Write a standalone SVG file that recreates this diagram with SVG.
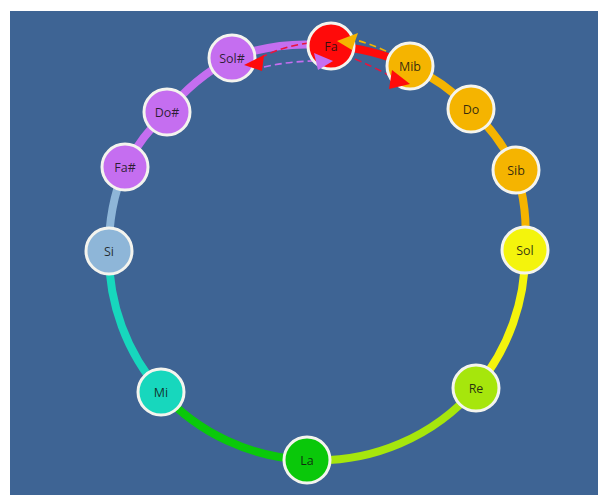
<svg xmlns="http://www.w3.org/2000/svg" width="598" height="495" viewBox="0 0 598 495">
<defs>
<style>
.bg{fill:#3e6494}
.arc{fill:none;stroke-width:8;stroke-linecap:butt}
.node circle{stroke:#f4f4ee;stroke-width:3}
.node text{font-family:"Open Sans","Noto Sans",sans-serif;font-size:12.5px;text-anchor:middle;dominant-baseline:central;fill:#111111;fill-opacity:0.85}
.dash{fill:none;stroke-width:1.6;stroke-dasharray:7 4}
</style>
</defs>
<rect width="598" height="495" fill="#ffffff"/>
<rect class="bg" x="10" y="11" width="588" height="484"/>
<g id="connectors">
<path class="arc" stroke="#ff0a0a" stroke-width="10" d="M331,46 A208,208 0 0 1 410,66"/>
<path class="arc" stroke="#f5b400" d="M410,66 A208,208 0 0 1 471,109"/>
<path class="arc" stroke="#f5b400" d="M471,109 A208,208 0 0 1 516,170"/>
<path class="arc" stroke="#f5b400" d="M516,170 A208,208 0 0 1 525,250"/>
<path class="arc" stroke="#f4f40c" d="M525,250 A208,208 0 0 1 476,388"/>
<path class="arc" stroke="#a6e60c" d="M476,388 A208,208 0 0 1 307,460"/>
<path class="arc" stroke="#0ac80a" d="M307,460 A208,208 0 0 1 161,392"/>
<path class="arc" stroke="#17d7bd" d="M161,392 A208,208 0 0 1 109,251"/>
<path class="arc" stroke="#8eb6d8" d="M109,251 A208,208 0 0 1 125,167"/>
<path class="arc" stroke="#c56ef0" d="M125,167 A208,208 0 0 1 167,112"/>
<path class="arc" stroke="#c56ef0" d="M167,112 A208,208 0 0 1 232,58"/>
<path class="arc" stroke="#c56ef0" d="M232,58 A208,208 0 0 1 331,46"/>
<path class="dash" stroke="#e8143c" d="M309,43 Q284,46 262,57"/>
<path class="dash" stroke="#c56ef0" d="M264,67 Q290,61 316,61"/>
<path class="dash" stroke="#e8143c" d="M355,59 Q374,67 392,77"/>
<path class="dash" stroke="#f5b400" d="M396,56 Q377,46 356,40"/>
</g>
<g id="node-Fa" class="node"><circle cx="331" cy="46" r="23" fill="#ff0a0a"/><text x="331" y="46">Fa</text></g>
<g id="node-Mib" class="node"><circle cx="410" cy="66" r="23" fill="#f5b400"/><text x="410" y="66">Mib</text></g>
<g id="node-Do" class="node"><circle cx="471" cy="109" r="23" fill="#f5b400"/><text x="471" y="109">Do</text></g>
<g id="node-Sib" class="node"><circle cx="516" cy="170" r="23" fill="#f5b400"/><text x="516" y="170">Sib</text></g>
<g id="node-Sol" class="node"><circle cx="525" cy="250" r="23" fill="#f4f40c"/><text x="525" y="250">Sol</text></g>
<g id="node-Re" class="node"><circle cx="476" cy="388" r="23" fill="#a6e60c"/><text x="476" y="388">Re</text></g>
<g id="node-La" class="node"><circle cx="307" cy="460" r="23" fill="#0ac80a"/><text x="307" y="460">La</text></g>
<g id="node-Mi" class="node"><circle cx="161" cy="392" r="23" fill="#17d7bd"/><text x="161" y="392">Mi</text></g>
<g id="node-Si" class="node"><circle cx="109" cy="251" r="23" fill="#8eb6d8"/><text x="109" y="251">Si</text></g>
<g id="node-Fas" class="node"><circle cx="125" cy="167" r="23" fill="#c56ef0"/><text x="125" y="167">Fa#</text></g>
<g id="node-Dos" class="node"><circle cx="167" cy="112" r="23" fill="#c56ef0"/><text x="167" y="112">Do#</text></g>
<g id="node-Sols" class="node"><circle cx="232" cy="58" r="23" fill="#c56ef0"/><text x="232" y="58">Sol#</text></g>
<g id="arrowheads">
<polygon points="244,65 264,55 262,71" fill="#ff0a0a"/>
<polygon points="333,61 314,53 318,70" fill="#c56ef0"/>
<polygon points="410,84 392,70 389,89" fill="#ff0a0a"/>
<polygon points="337,41 358,33 352,50" fill="#f5b400"/>
</g>
</svg>
